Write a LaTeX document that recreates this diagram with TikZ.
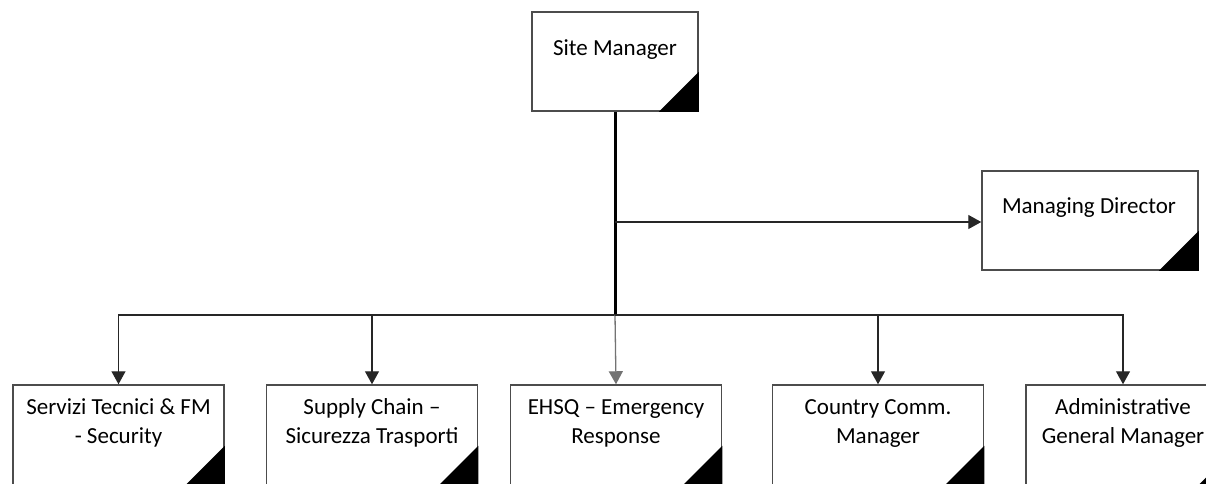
\documentclass[tikz,border=0pt]{standalone}
\usepackage{fontspec}
\setmainfont{Carlito}
\usetikzlibrary{arrows.meta}
\begin{document}
\begin{tikzpicture}[x=1pt,y=-1pt,
  orgbox/.style={draw=black!70, line width=1.5pt, fill=white, minimum width=#1, minimum height=99pt, inner sep=0pt},
  lbl/.style={font=\fontsize{23}{28.5}\selectfont, anchor=base, inner sep=0pt, align=center},
  conn/.style={draw=black!85, line width=1.3pt},
  tip/.style={-{Triangle[length=13pt,width=14pt]}},
  corner/.style={fill=black}]
\useasboundingbox (0,0) rectangle (1206,483);
% boxes
\node[orgbox=166pt] (sm) at (615,61.5) {};
\node[orgbox=216pt] (md) at (1090,220.5) {};
\node[orgbox=211pt, minimum height=100pt] (b1) at (118.5,435) {};
\node[orgbox=211pt, minimum height=100pt] (b2) at (372,435) {};
\node[orgbox=211pt, minimum height=100pt] (b3) at (616,435) {};
\node[orgbox=211pt, minimum height=100pt] (b4) at (878,435) {};
\node[orgbox=211pt, minimum height=100pt] (b5) at (1131.5,435) {};
% corner triangles
\foreach \b in {sm,md,b1,b2,b3,b4,b5}{
  \fill[corner] (\b.south east) -- ++(-40,0) -- ++(40,-40) -- cycle;
}
% labels
\node[lbl] (tsm) at (615,55) {Site Manager};
\node[lbl] (tmd) at (1089,213) {Managing Director};
\node[lbl] (t1) at (118.5,443) {Servizi Tecnici \& FM\\- Security};
\node[lbl] (t2) at (372,443) {Supply Chain –\\Sicurezza Trasporti};
\node[lbl] (t3) at (616,443) {EHSQ – Emergency\\Response};
\node[lbl] (t4) at (878,443) {Country Comm.\\Manager};
\node[lbl] (t5) at (1123,443) {Administrative\\General Manager};
% connectors
\coordinate (bus) at (615,315);
\coordinate (mdj) at (615,222);
\draw[conn, line width=3pt, draw=black] (sm.south) -- (bus);
\draw[conn, tip] (mdj) -- (md.west |- mdj);
\draw[conn, tip] (bus) -| (b1.north);
\draw[conn, tip] (bus) -| (b2.north);
\draw[conn, tip, draw=black!55] (bus) -- (b3.north);
\draw[conn, tip] (bus) -| (b4.north);
\draw[conn, tip] (bus) -| (t5 |- b5.north);
\end{tikzpicture}
\end{document}
